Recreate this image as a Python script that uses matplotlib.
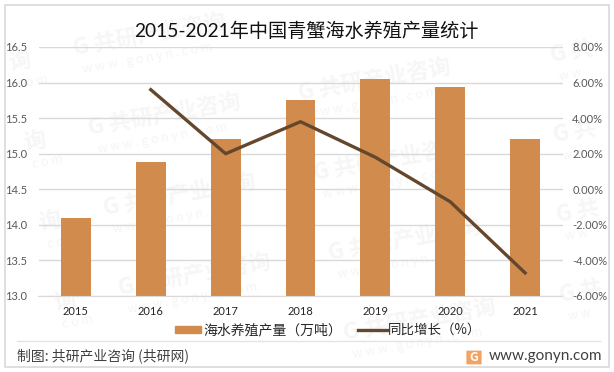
import matplotlib
matplotlib.use("Agg")
import matplotlib.pyplot as plt
from matplotlib.patches import Rectangle, FancyBboxPatch

plt.rcParams['font.family'] = ['Noto Sans CJK SC', 'DejaVu Sans']

years = ["2015", "2016", "2017", "2018", "2019", "2020", "2021"]
output = [14.1, 14.88, 15.2, 15.75, 16.05, 15.94, 15.2]
growth_years = ["2016", "2017", "2018", "2019", "2020", "2021"]
growth = [5.6, 2.0, 3.8, 1.8, -0.7, -4.7]
left_ticks = [13.0, 13.5, 14.0, 14.5, 15.0, 15.5, 16.0, 16.5]
right_ticks = [-6, -4, -2, 0, 2, 4, 6, 8]

W, H = 614, 372
fig = plt.figure(figsize=(W / 100, H / 100), dpi=100)
ax = fig.add_axes([38.5 / W, 1 - 296 / H, 524 / W, 249 / H])
ax.patch.set_alpha(0)

# faint watermark behind the chart
for col_x, col_y, step, mark, site in [(10, 70, 15, "询", "c o m"), (75, 55, 15, "G 共研产业咨询", "w w w . g o n y n . c o m"),
		(300, 100, 15, "G 共研产业咨询", "w w w . g o n y n . c o m"), (552, 62, 3, "G 共", "w w")]:
	for row in range(4):
		x = col_x + row * step
		y = col_y + row * 80
		if y > 345:
			continue
		fig.text(x / W, 1 - y / H, mark, fontsize=16, fontweight="bold", color="#f6f6f6",
			rotation=10, rotation_mode="anchor", zorder=-5)
		fig.text((x + 8) / W, 1 - (y + 18) / H, site, fontsize=9, color="#f5f5f5",
			rotation=10, rotation_mode="anchor", zorder=-5)

ax.bar(years, output, width=0.4, color="#d18b4d", zorder=2)
ax.set_xlim(-0.5, 6.5)
ax.set_ylim(13.0, 16.5)
ax.set_yticks(left_ticks)
ax.set_yticklabels(["%.1f" % t for t in left_ticks], family="Lato", fontsize=8, color="#595959")
ax.tick_params(axis="y", length=0, pad=8)
ax.tick_params(axis="x", length=0, pad=7)
for lab in ax.get_xticklabels():
	lab.set_family("Lato")
	lab.set_fontsize(8)
	lab.set_color("#262626")
ax.grid(axis="y", color="#d9d9d9", linewidth=1, zorder=0)
ax.set_axisbelow(True)
for s in ["top", "left", "right"]:
	ax.spines[s].set_visible(False)
ax.spines["bottom"].set_color("#d9d9d9")

ax2 = ax.twinx()
ax2.patch.set_alpha(0)
ax2.plot([years.index(y) for y in growth_years], growth, color="#65472d", linewidth=2.4, zorder=5)
ax2.set_ylim(-6, 8)
ax2.set_yticks(right_ticks)
ax2.set_yticklabels(["%.2f%%" % t for t in right_ticks], family="Lato", fontsize=8, color="#595959")
ax2.tick_params(axis="y", length=0, pad=7)
for s in ax2.spines.values():
	s.set_visible(False)

fig.text(306 / W, 1 - 31 / H, "2015-2021年中国青蟹海水养殖产量统计", fontsize=13.8, color="#111111",
	ha="center", va="center", family=["Lato", "Noto Sans CJK SC"])

# legend
fig.add_artist(Rectangle((175 / W, 1 - 333 / H), 26 / W, 7 / H, transform=fig.transFigure, color="#d18b4d"))
fig.text(203 / W, 1 - 330 / H, "海水养殖产量（万吨）", fontsize=10, color="#262626", va="center")
fig.add_artist(plt.Line2D([358 / W, 387 / W], [1 - 330 / H] * 2, color="#65472d", linewidth=2.4))
fig.text(388 / W, 1 - 330 / H, "同比增长（%）", fontsize=9.7, color="#262626", va="center")

# frame and footer
fig.add_artist(Rectangle((5 / W, 1 - 367 / H), 604 / W, 362 / H, fill=False, edgecolor="#d9d9d9", linewidth=1.2,
	transform=fig.transFigure))
fig.add_artist(plt.Line2D([17 / W, 600 / W], [1 - 341 / H] * 2, color="#e4e4e4", linewidth=1))
fig.text(17 / W, 1 - 356 / H, "制图: 共研产业咨询 (共研网)", fontsize=10, color="#404040", va="center")
fig.add_artist(FancyBboxPatch((467 / W, 1 - 364 / H), 14 / W, 13 / H, boxstyle="round,pad=0.001",
	facecolor="#f4a261", edgecolor="none", transform=fig.transFigure))
fig.text(474 / W, 1 - 357.5 / H, "G", fontsize=9, fontweight="bold", color="white", ha="center", va="center")
fig.text(489 / W, 1 - 356 / H, "www.gonyn.com", fontsize=11, color="#404040", va="center", family="Lato")

fig.savefig("out.png", dpi=100)
